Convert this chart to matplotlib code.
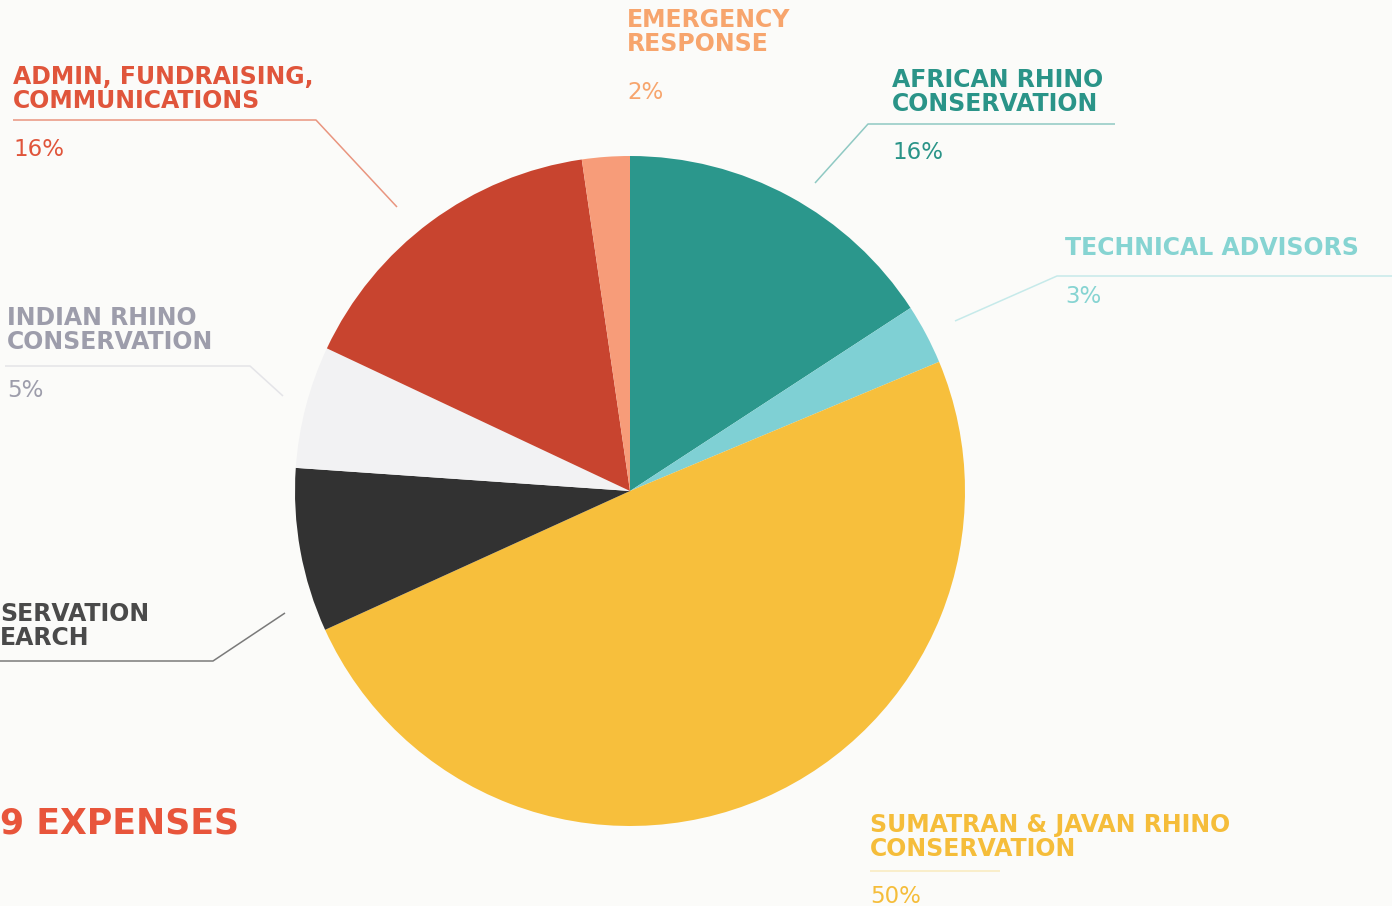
import matplotlib.pyplot as plt

categories = ["AFRICAN RHINO\nCONSERVATION", "TECHNICAL ADVISORS",
              "SUMATRAN & JAVAN RHINO\nCONSERVATION", "SERVATION\nEARCH",
              "INDIAN RHINO\nCONSERVATION", "ADMIN, FUNDRAISING,\nCOMMUNICATIONS",
              "EMERGENCY\nRESPONSE"]
values = [15.8, 2.9, 49.5, 7.9, 5.9, 15.7, 2.3]
pct_labels = ["16%", "3%", "50%", None, "5%", "16%", "2%"]
wedge_colors = ["#2b978c", "#7fd0d4", "#f7bf3c", "#323232", "#f2f2f3", "#c8442f", "#f79c79"]
text_colors = ["#2a9488", "#86d4d2", "#f5bd3a", "#4a4a4a", "#9d9dab", "#e0553b", "#f7a56d"]
title = "9 EXPENSES"

W, H = 1392, 906
fig = plt.figure(figsize=(W / 100, H / 100), dpi=100, facecolor="#fbfbf9")
ax = fig.add_axes([0, 0, 1, 1])
ax.set_facecolor("#fbfbf9")

ax.pie(values, colors=wedge_colors, startangle=90, counterclock=False,
       center=(630, H - 491), radius=335, wedgeprops=dict(linewidth=0))

# label placement in image pixels: x, first baseline, percent baseline
spots = [(892, 87, 159), (1065, 255, 303), (870, 832, 903),
         (0, 621, None), (7, 325, 397), (13, 84, 156), (627, 27, 99)]
fs = 17
for cat, pct, col, (x, yb, yp) in zip(categories, pct_labels, text_colors, spots):
    for i, line in enumerate(cat.split("\n")):
        ax.text(x, H - (yb + 24 * i), line, color=col, fontsize=fs,
                fontweight="bold", ha="left", va="baseline")
    if pct is not None:
        ax.text(x, H - yp, pct, color=col, fontsize=fs - 0.5, ha="left", va="baseline")

# leader lines
leaders = [
    ([13, 316, 397], [120, 120, 207], "#e9957f"),
    ([1115, 868, 815], [124, 124, 183], "#8fc9c3"),
    ([1392, 1057, 955], [276, 276, 321], "#c6eaea"),
    ([5, 250, 283], [366, 366, 396], "#e4e4e8"),
    ([0, 213, 285], [661, 661, 613], "#7a7a7a"),
    ([870, 1000], [871, 871], "#f9ebbe"),
]
for xs, ys, c in leaders:
    ax.plot(xs, [H - y for y in ys], color=c, lw=1.1, solid_capstyle="butt")

ax.text(0, H - 833, title, color="#e8553b", fontsize=25, fontweight="bold",
        ha="left", va="baseline")

ax.set_xlim(0, W)
ax.set_ylim(0, H)
ax.set_aspect("equal")
ax.axis("off")

plt.savefig("out.png", dpi=100, facecolor=fig.get_facecolor())
plt.close()
